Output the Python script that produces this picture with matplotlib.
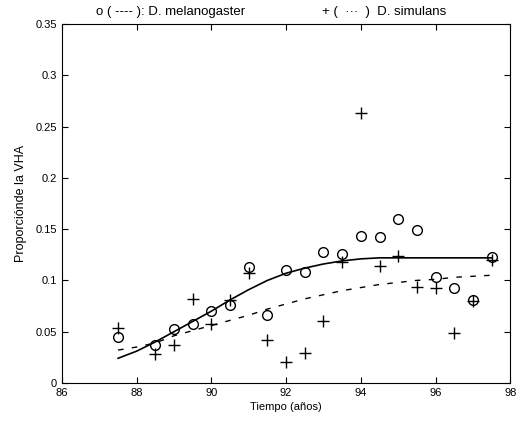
import matplotlib
matplotlib.use("Agg")
import matplotlib.pyplot as plt

plt.rcParams['font.family'] = ['Liberation Sans', 'DejaVu Sans']

# observed proportions (circles: D. melanogaster, plus: D. simulans)
years = [87.5, 88.5, 89.0, 89.5, 90.0, 90.5, 91.0, 91.5, 92.0, 92.5,
         93.0, 93.5, 94.0, 94.5, 95.0, 95.5, 96.0, 96.5, 97.0, 97.5]
melano = [0.045, 0.037, 0.053, 0.057, 0.070, 0.076, 0.113, 0.066, 0.110, 0.108,
          0.128, 0.126, 0.143, 0.142, 0.160, 0.149, 0.103, 0.093, 0.081, 0.123]
simul = [0.054, 0.028, 0.037, 0.082, 0.057, 0.081, 0.107, 0.042, 0.020, 0.029,
         0.060, 0.118, 0.263, 0.114, 0.124, 0.094, 0.093, 0.049, 0.080, 0.120]

# fitted curves
fit_x = [87.5, 88.0, 88.5, 89.0, 89.5, 90.0, 90.5, 91.0, 91.5, 92.0, 92.5,
         93.0, 93.5, 94.0, 94.5, 95.0, 95.5, 96.0, 96.5, 97.0, 97.5]
fit_melano = [0.024, 0.031, 0.040, 0.050, 0.060, 0.070, 0.081, 0.091, 0.100, 0.107, 0.112,
              0.116, 0.119, 0.121, 0.122, 0.122, 0.122, 0.122, 0.122, 0.122, 0.122]
fit_simul = [0.032, 0.035, 0.039, 0.046, 0.051, 0.056, 0.061, 0.066, 0.072, 0.077, 0.082,
             0.086, 0.090, 0.093, 0.096, 0.098, 0.100, 0.101, 0.103, 0.104, 0.105]

xticks = [86, 88, 90, 92, 94, 96, 98]
yticks = [0, 0.05, 0.1, 0.15, 0.2, 0.25, 0.3, 0.35]
ytick_labels = ['0', '0.05', '0.1', '0.15', '0.2', '0.25', '0.3', '0.35']

fig = plt.figure(figsize=(5.26, 4.24), dpi=100)
ax = fig.add_axes([0.118, 0.097, 0.852, 0.846])

ax.plot(fit_x, fit_melano, '-', color='black', lw=1.2)
ax.plot(fit_x, fit_simul, '--', color='black', lw=1.0, dashes=(4, 6))
ax.plot(years, melano, 'o', mfc='none', mec='black', ms=7, mew=1.0)
ax.plot(years, simul, '+', color='black', ms=8, mew=1.0)

ax.set_xlim(86, 98)
ax.set_ylim(0, 0.35)
ax.set_xticks(xticks)
ax.set_yticks(yticks)
ax.set_yticklabels(ytick_labels)
ax.tick_params(direction='in', top=True, right=True, labelsize=8, length=4)
ax.set_xlabel('Tiempo (años)', fontsize=8, labelpad=3)
ax.set_ylabel('Proporciónde la VHA', fontsize=9, labelpad=6)

fig.text(0.325, 0.972, 'o ( ---- ): D. melanogaster', ha='center', va='center', fontsize=9.5)
fig.text(0.73, 0.972, '+ (  ···  )  D. simulans', ha='center', va='center', fontsize=9.5)

fig.savefig('out.png', dpi=100)
